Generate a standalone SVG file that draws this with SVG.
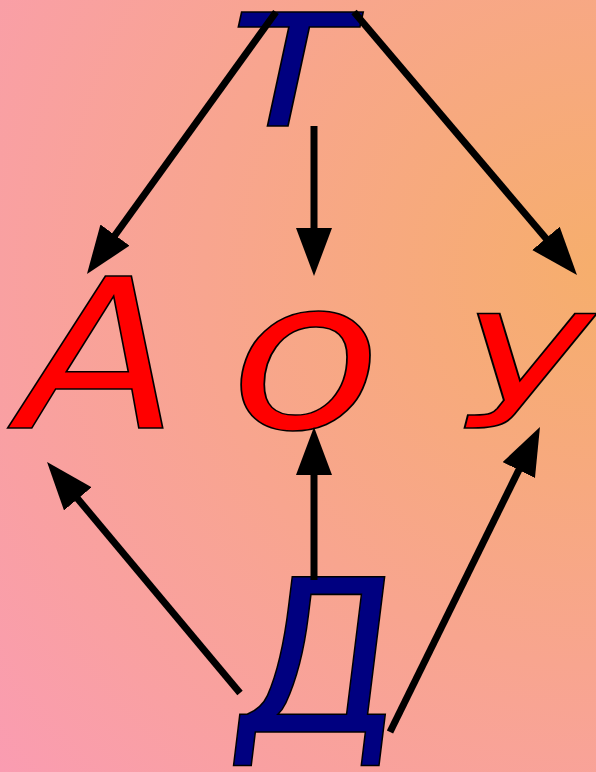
<svg xmlns="http://www.w3.org/2000/svg" width="596" height="772" viewBox="0 0 596 772">
<defs>
<radialGradient id="bg" gradientUnits="userSpaceOnUse" cx="600" cy="270" r="790">
<stop offset="0" stop-color="#F6AE6C"/>
<stop offset="1" stop-color="#FA9CB2"/>
</radialGradient>
<marker id="ah" markerUnits="userSpaceOnUse" markerWidth="50" markerHeight="40" refX="10" refY="18" orient="auto" viewBox="0 0 50 40">
<path d="M0,0 L48,18 L0,36 Z" fill="#000"/>
</marker>
<style>
.lt{font-family:"DejaVu Sans",Verdana,sans-serif;font-style:italic;stroke:#000;stroke-width:1.5;stroke-linejoin:miter}
.red{fill:#FF0000}
.blue{fill:#000080}
.cn line{stroke:#000;stroke-width:7;marker-end:url(#ah)}
</style>
</defs>
<rect width="596" height="772" fill="url(#bg)"/>
<g id="node-t"><text class="lt blue" transform="translate(222.5,126) scale(1.11,1)" font-size="209">т</text></g>
<g id="node-a"><text class="lt red" transform="translate(20,428) scale(1.11,1)" font-size="209">А</text></g>
<g id="node-o"><text class="lt red" transform="translate(229.7,428) scale(1.186,1)" font-size="209">о</text></g>
<g id="node-u"><text class="lt red" transform="translate(459.5,428) scale(1.32,1)" font-size="157">У</text></g>
<g id="node-d"><text class="lt blue" transform="translate(239,732) skewX(4)" font-size="213">Д</text></g>
<g id="connectors" class="cn">
<line x1="276" y1="12" x2="109.2" y2="243.2"/>
<line x1="354" y1="12" x2="552.4" y2="246"/>
<line x1="314" y1="126" x2="314" y2="238"/>
<line x1="314" y1="580" x2="314" y2="465"/>
<line x1="240" y1="693" x2="71.4" y2="491.2"/>
<line x1="390" y1="732" x2="523.2" y2="461.1"/>
</g>
</svg>
